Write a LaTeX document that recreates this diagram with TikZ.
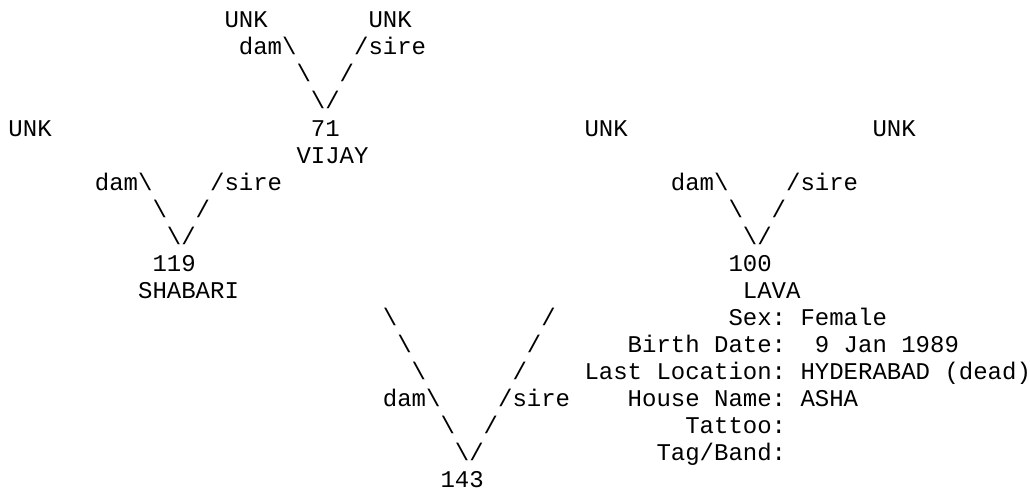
\documentclass[tikz,border=0pt]{standalone}
\usepackage{fontspec}
\newfontfamily\monofnt{Liberation Mono}
\newcommand\bs{\textbackslash}
\newcommand\ascii[4]{\node[txt] (#1) at ({8.5+#2*14.4},{28+(#3-1)*27}) {#4};}
\begin{document}
\begin{tikzpicture}[x=1pt,y=-1pt,
  txt/.style={anchor=base west, inner sep=0pt, outer sep=0pt, text=black,
    font=\monofnt\fontsize{24}{27}\selectfont\frenchspacing}]
\useasboundingbox[fill=white] (0,0) rectangle (1030,492);
% top pedigree of 71
\ascii{unkA}{15}{1}{UNK}
\ascii{unkB}{25}{1}{UNK}
\ascii{damA}{16}{2}{dam\bs}
\ascii{sireA}{24}{2}{/sire}
\ascii{lA3}{20}{3}{\bs}
\ascii{rA3}{23}{3}{/}
\ascii{vA4}{21}{4}{\bs/}
% line 5
\ascii{unkC}{0}{5}{UNK}
\ascii{n71}{21}{5}{71}
\ascii{unkD}{40}{5}{UNK}
\ascii{unkE}{60}{5}{UNK}
\ascii{vijay}{20}{6}{VIJAY}
% second generation
\ascii{damB}{6}{7}{dam\bs}
\ascii{sireB}{14}{7}{/sire}
\ascii{damC}{46}{7}{dam\bs}
\ascii{sireC}{54}{7}{/sire}
\ascii{lB8}{10}{8}{\bs}
\ascii{rB8}{13}{8}{/}
\ascii{lC8}{50}{8}{\bs}
\ascii{rC8}{53}{8}{/}
\ascii{vB9}{11}{9}{\bs/}
\ascii{vC9}{51}{9}{\bs/}
\ascii{n119}{10}{10}{119}
\ascii{n100}{50}{10}{100}
\ascii{shabari}{9}{11}{SHABARI}
\ascii{lava}{51}{11}{LAVA}
% bottom V
\ascii{lD12}{26}{12}{\bs}
\ascii{rD12}{37}{12}{/}
\ascii{lD13}{27}{13}{\bs}
\ascii{rD13}{36}{13}{/}
\ascii{lD14}{28}{14}{\bs}
\ascii{rD14}{35}{14}{/}
\ascii{damD}{26}{15}{dam\bs}
\ascii{sireD}{34}{15}{/sire}
\ascii{lD16}{30}{16}{\bs}
\ascii{rD16}{33}{16}{/}
\ascii{vD17}{31}{17}{\bs/}
\ascii{n143}{30}{18}{143}
% details
\ascii{sex}{50}{12}{Sex: Female}
\ascii{birth}{43}{13}{Birth Date:~~9 Jan 1989}
\ascii{loc}{40}{14}{Last Location: HYDERABAD (dead)}
\ascii{house}{43}{15}{House Name: ASHA}
\ascii{tattoo}{47}{16}{Tattoo:}
\ascii{tag}{45}{17}{Tag/Band:}
\end{tikzpicture}
\end{document}
